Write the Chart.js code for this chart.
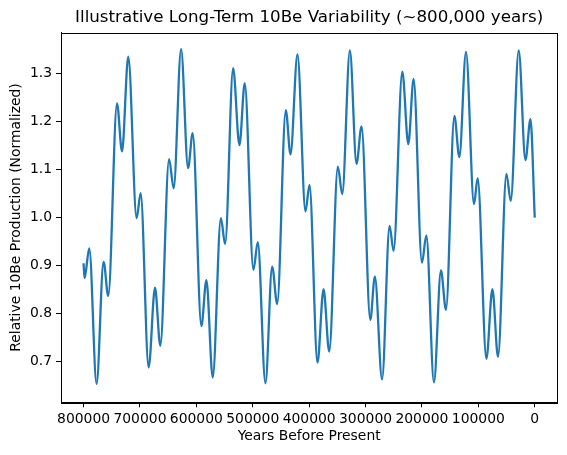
<!DOCTYPE html>
<html>
<head>
<meta charset="utf-8">
<script src="https://cdn.jsdelivr.net/npm/chart.js@4/dist/chart.umd.min.js"></script>
<style>
  html, body { margin: 0; padding: 0; background: #ffffff; }
  #wrap { width: 567px; height: 455px; }
</style>
</head>
<body>
<div id="wrap"><canvas id="c" width="567" height="455"></canvas></div>
<script>
// Data (turning points of the curve)
const years = [800000, 798200, 789900, 776900, 764500, 756200, 740700, 731800, 720700, 705900,
  698800, 684600, 673300, 663900, 648400, 640200, 627100, 614700, 606500, 591100,
  582200, 571000, 556500, 549000, 534800, 523600, 514200, 498800, 491100, 477500,
  465600, 456700, 441400, 433100, 420700, 406500, 399400, 385200, 374500, 364400,
  349100, 341300, 327800, 316000, 307100, 291600, 283500, 270700, 257400, 250300,
  234800, 224200, 214800, 200000, 192200, 178700, 166300, 157400, 142500, 133700,
  121900, 107700, 101200, 85700, 75100, 65100, 50200, 42600, 28400, 16500,
  7600, 0];
const production = [0.905, 0.874, 0.936, 0.654, 0.908, 0.837, 1.238, 1.138, 1.335, 0.999,
  1.051, 0.688, 0.854, 0.733, 1.122, 1.061, 1.351, 1.103, 1.176, 0.774,
  0.870, 0.667, 0.999, 0.945, 1.311, 1.151, 1.280, 0.891, 0.949, 0.655,
  0.898, 0.820, 1.224, 1.132, 1.340, 1.013, 1.068, 0.698, 0.851, 0.721,
  1.106, 1.049, 1.348, 1.112, 1.190, 0.787, 0.877, 0.663, 0.983, 0.931,
  1.304, 1.153, 1.289, 0.906, 0.963, 0.657, 0.890, 0.808, 1.212, 1.126,
  1.345, 1.028, 1.082, 0.706, 0.851, 0.710, 1.091, 1.035, 1.348, 1.120,
  1.205, 1.000];
const xTicks = [800000, 700000, 600000, 500000, 400000, 300000, 200000, 100000, 0];
const yTicks = [0.7, 0.8, 0.9, 1.0, 1.1, 1.2, 1.3];

const titleText = 'Illustrative Long-Term 10Be Variability (~800,000 years)';
const xLabel = 'Years Before Present';
const yLabel = 'Relative 10Be Production (Normalized)';

const FONT = "'DejaVu Sans', sans-serif";

const points = years.map((y, i) => ({ x: y, y: production[i] }));

const framePlugin = {
  id: 'frame',
  afterDraw(chart) {
    const a = chart.chartArea;
    const ctx = chart.ctx;
    ctx.save();
    ctx.strokeStyle = '#000';
    ctx.lineWidth = 1;
    ctx.strokeRect(Math.round(a.left) + 0.5, Math.round(a.top) + 0.5,
                   Math.round(a.right - a.left), Math.round(a.bottom - a.top));
    ctx.restore();
  }
};

new Chart(document.getElementById('c'), {
  type: 'line',
  data: {
    datasets: [{
      data: points,
      borderColor: '#1f77b4',
      borderWidth: 2.3,
      pointRadius: 0,
      fill: false,
      cubicInterpolationMode: 'monotone'
    }]
  },
  options: {
    responsive: false,
    animation: false,
    devicePixelRatio: 1,
    layout: { padding: { left: 0, right: 9.7, top: 0, bottom: 0 } },
    plugins: {
      legend: { display: false },
      tooltip: { enabled: false },
      title: {
        display: true,
        text: titleText,
        fullSize: false,
        color: '#000',
        font: { family: FONT, size: 16.7, weight: 'normal' },
        padding: { top: 8, bottom: 4.7 }
      }
    },
    scales: {
      x: {
        type: 'linear',
        reverse: true,
        min: -40000,
        max: 840000,
        afterBuildTicks(scale) { scale.ticks = xTicks.map(v => ({ value: v })); },
        afterFit(scale) { scale.height = 52.7; },
        grid: { display: true, drawOnChartArea: false, drawTicks: true, tickLength: 5, tickColor: '#000', tickWidth: 1 },
        border: { display: true, color: '#000', width: 1 },
        ticks: {
          color: '#000',
          font: { family: FONT, size: 13.9 },
          padding: 4,
          maxRotation: 0,
          autoSkip: false,
          callback: v => String(v)
        },
        title: {
          display: true,
          text: xLabel,
          color: '#000',
          font: { family: FONT, size: 13.9 },
          padding: { top: 0, bottom: 10 }
        }
      },
      y: {
        type: 'linear',
        min: 0.6154,
        max: 1.385,
        afterBuildTicks(scale) { scale.ticks = yTicks.map(v => ({ value: v })); },
        afterFit(scale) { scale.width = 61; },
        grid: { display: true, drawOnChartArea: false, drawTicks: true, tickLength: 5, tickColor: '#000', tickWidth: 1 },
        border: { display: true, color: '#000', width: 1 },
        ticks: {
          color: '#000',
          font: { family: FONT, size: 13.9 },
          padding: 4,
          autoSkip: false,
          callback: v => Number(v).toFixed(1)
        },
        title: {
          display: true,
          text: yLabel,
          color: '#000',
          font: { family: FONT, size: 13.9 },
          padding: { top: 8.3, bottom: 0 }
        }
      }
    }
  },
  plugins: [framePlugin]
});
</script>
</body>
</html>
